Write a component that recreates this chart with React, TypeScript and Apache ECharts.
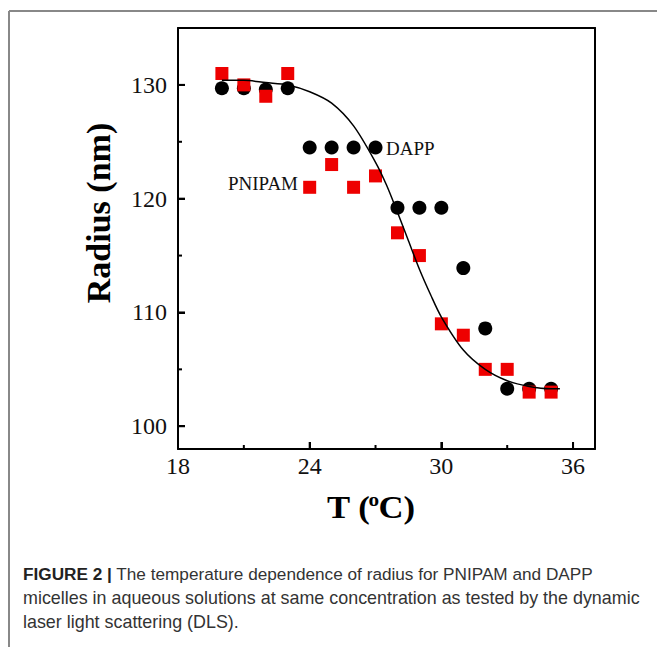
import React, { useEffect, useRef } from "react";
import * as echarts from "echarts";

const temperatures = [20, 21, 22, 23, 24, 25, 26, 27, 28, 29, 30, 31, 32, 33, 34, 35];
const dappRadius = [129.7, 129.7, 129.6, 129.7, 124.5, 124.5, 124.5, 124.5, 119.2, 119.2, 119.2, 113.9, 108.6, 103.3, 103.3, 103.3];
const pnipamRadius = [131, 130, 129, 131, 121, 123, 121, 122, 117, 115, 109, 108, 105, 105, 103, 103];
const fitT = [20, 21, 22, 23, 24, 25, 26, 27, 27.5, 28, 28.5, 29, 29.5, 30, 31, 32, 33, 34, 35, 35.4];
const fitRadius = [130.4, 130.4, 130.2, 130.0, 129.4, 128.4, 126.4, 123.2, 121.2, 118.8, 116.3, 113.8, 111.6, 109.6, 106.7, 105.0, 104.0, 103.5, 103.3, 103.3];
const xMajorTicks = [18, 24, 30, 36];
const xMinorTicks = [21, 27, 33];
const yMajorTicks = [100, 110, 120, 130];
const yMinorTicks = [105, 115, 125];
const captionLines = [
  "The temperature dependence of radius for PNIPAM and DAPP",
  "micelles in aqueous solutions at same concentration as tested by the dynamic",
  "laser light scattering (DLS).",
];

const SERIF = "'Liberation Serif', 'Times New Roman', serif";
const SANS = "'Liberation Sans', Arial, sans-serif";

const X_MIN = 18;
const X_MAX = 37;
const Y_MIN = 98;
const Y_MAX = 135;

function tickSeries(values: number[], horizontal: boolean, len: number) {
  return {
    type: "custom",
    silent: true,
    z: 5,
    clip: false,
    xAxisIndex: 0,
    yAxisIndex: 0,
    encode: { x: 0, y: 1 },
    data: values.map((v) => (horizontal ? [X_MIN, v] : [v, Y_MIN])),
    renderItem: (_params: any, api: any) => {
      const p = api.coord([api.value(0), api.value(1)]);
      const shape = horizontal
        ? { x: p[0], y: p[1] - 1, width: len, height: 2 }
        : { x: p[0] - 1, y: p[1] - len, width: 2, height: len };
      return { type: "rect", shape, style: { fill: "#000" } };
    },
  };
}

export default function App() {
  const ref = useRef<HTMLDivElement>(null);
  useEffect(() => {
    if (!ref.current) return;
    const chart = echarts.init(ref.current, undefined, { renderer: "svg" });
    const frameLine = { show: true, onZero: false, lineStyle: { color: "#000", width: 2 } };
    const option: any = {
      animation: false,
      grid: { left: 178, right: 62, top: 28, bottom: 198 },
      xAxis: [
        {
          type: "value",
          min: X_MIN,
          max: X_MAX,
          position: "bottom",
          splitLine: { show: false },
          axisLine: frameLine,
          axisTick: { show: true, inside: true, length: 7, customValues: xMajorTicks, lineStyle: { color: "#000", width: 2 } },
          axisLabel: {
            customValues: xMajorTicks,
            margin: 5,
            color: "#111",
            fontFamily: SERIF,
            fontSize: 24,
          },
        },
        {
          type: "value",
          min: X_MIN,
          max: X_MAX,
          position: "top",
          splitLine: { show: false },
          axisLine: frameLine,
          axisTick: { show: false },
          axisLabel: { show: false },
        },
      ],
      yAxis: [
        {
          type: "value",
          min: Y_MIN,
          max: Y_MAX,
          position: "left",
          splitLine: { show: false },
          axisLine: frameLine,
          axisTick: { show: true, inside: true, length: 7, customValues: yMajorTicks, lineStyle: { color: "#000", width: 2 } },
          axisLabel: {
            customValues: yMajorTicks,
            margin: 11,
            color: "#111",
            fontFamily: SERIF,
            fontSize: 24,
          },
        },
        {
          type: "value",
          min: Y_MIN,
          max: Y_MAX,
          position: "right",
          splitLine: { show: false },
          axisLine: frameLine,
          axisTick: { show: false },
          axisLabel: { show: false },
        },
      ],
      series: [
        {
          name: "DAPP",
          type: "scatter",
          xAxisIndex: 0,
          yAxisIndex: 0,
          symbol: "circle",
          symbolSize: 14,
          itemStyle: { color: "#000", opacity: 1 },
          data: temperatures.map((t, i) => [t, dappRadius[i]]),
          z: 2,
        },
        {
          name: "PNIPAM",
          type: "scatter",
          xAxisIndex: 0,
          yAxisIndex: 0,
          symbol: "rect",
          symbolSize: 13,
          itemStyle: { color: "#ee0000", opacity: 1 },
          data: temperatures.map((t, i) => [t, pnipamRadius[i]]),
          z: 3,
        },
        {
          name: "Fit",
          type: "line",
          xAxisIndex: 0,
          yAxisIndex: 0,
          smooth: 0.3,
          showSymbol: false,
          symbol: "none",
          lineStyle: { color: "#000", width: 1.5 },
          data: fitT.map((t, i) => [t, fitRadius[i]]),
          z: 4,
        },
        tickSeries(xMajorTicks, false, 7),
        tickSeries(xMinorTicks, false, 4),
        tickSeries(yMajorTicks, true, 7),
        tickSeries(yMinorTicks, true, 4),
      ],
      graphic: [
        { type: "line", shape: { x1: 9, y1: 11, x2: 700, y2: 11 }, style: { stroke: "#888", lineWidth: 2 }, silent: true },
        { type: "line", shape: { x1: 9, y1: 11, x2: 9, y2: 700 }, style: { stroke: "#888", lineWidth: 2 }, silent: true },
        {
          type: "text",
          x: 386,
          y: 148,
          style: { text: "DAPP", fontFamily: SERIF, fontSize: 19, fill: "#111", verticalAlign: "middle", align: "left" },
          z: 10,
        },
        {
          type: "text",
          x: 298,
          y: 183,
          style: { text: "PNIPAM", fontFamily: SERIF, fontSize: 19, fill: "#111", verticalAlign: "middle", align: "right" },
          z: 10,
        },
        {
          type: "text",
          x: 98,
          y: 213,
          rotation: Math.PI / 2,
          style: { text: "Radius (nm)", fontFamily: SERIF, fontSize: 34, fontWeight: "bold", fill: "#000", align: "center", verticalAlign: "middle" },
        },
        {
          type: "group",
          x: 327,
          y: 523,
          scaleX: 1.12,
          children: [
            { type: "text", x: 0, y: 0, style: { text: "T (", fontFamily: SERIF, fontSize: 31, fontWeight: "bold", fill: "#000", verticalAlign: "bottom" } },
            { type: "text", x: 37, y: -33, style: { text: "o", fontFamily: SERIF, fontSize: 19, fontWeight: "bold", fill: "#000", verticalAlign: "top" } },
            { type: "text", x: 46, y: 0, style: { text: "C)", fontFamily: SERIF, fontSize: 31, fontWeight: "bold", fill: "#000", verticalAlign: "bottom" } },
          ],
        },
        {
          type: "text",
          x: 23,
          y: 574,
          style: {
            text: "{b|FIGURE 2 |} " + captionLines[0],
            fontFamily: SANS,
            fontSize: 17.2,
            fill: "#333",
            verticalAlign: "middle",
            rich: { b: { fontFamily: SANS, fontSize: 17.2, fontWeight: "bold", fill: "#222" } },
          },
        },
        { type: "text", x: 23, y: 598, style: { text: captionLines[1], fontFamily: SANS, fontSize: 17.9, fill: "#333", verticalAlign: "middle" } },
        { type: "text", x: 23, y: 622, style: { text: captionLines[2], fontFamily: SANS, fontSize: 17.9, fill: "#333", verticalAlign: "middle" } },
      ],
    };
    chart.setOption(option);
    return () => chart.dispose();
  }, []);
  return (
    <div
      ref={ref}
      style={{ position: "absolute", left: 0, top: 0, width: 657, height: 647, background: "#fff" }}
    />
  );
}
